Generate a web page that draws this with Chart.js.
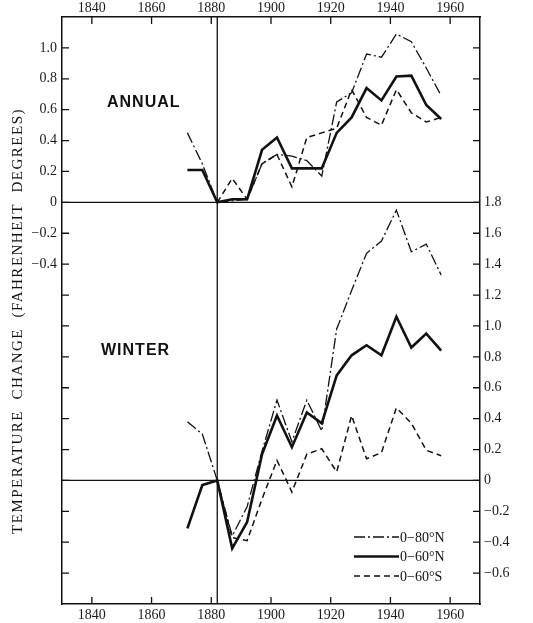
<!DOCTYPE html>
<html>
<head>
<meta charset="utf-8">
<script src="https://cdn.jsdelivr.net/npm/chart.js@4"></script>
<style>
  html, body { margin: 0; padding: 0; background: #fff; }
  canvas { display: block; }
</style>
</head>
<body>
<canvas id="chart" width="533" height="623"></canvas>
<script>
(function () {
  "use strict";

  // 5-year means, centred; reference pentad is 1880-84
  var years = [1872, 1877, 1882, 1887, 1892, 1897, 1902, 1907, 1912, 1917, 1922, 1927, 1932, 1937, 1942, 1947, 1952, 1957];

  var annualN80 = [0.45, 0.25, 0, 0.01, 0.02, 0.25, 0.31, 0.30, 0.27, 0.17, 0.65, 0.71, 0.96, 0.94, 1.09, 1.04, 0.87, 0.69];
  var annualN60 = [0.21, 0.21, 0, 0.02, 0.02, 0.34, 0.42, 0.22, 0.22, 0.22, 0.45, 0.55, 0.74, 0.66, 0.815, 0.82, 0.63, 0.54];
  var annualS60 = [null, null, 0, 0.155, 0.02, 0.25, 0.31, 0.10, 0.42, 0.45, 0.48, 0.73, 0.55, 0.50, 0.73, 0.58, 0.52, 0.55];

  var winterN80 = [0.38, 0.30, 0, -0.36, -0.17, 0.19, 0.52, 0.25, 0.52, 0.32, 0.98, 1.23, 1.47, 1.55, 1.75, 1.48, 1.53, 1.33];
  var winterN60 = [-0.31, -0.03, 0, -0.44, -0.27, 0.17, 0.42, 0.215, 0.44, 0.37, 0.68, 0.81, 0.875, 0.81, 1.06, 0.86, 0.95, 0.84];
  var winterS60 = [null, null, 0, -0.37, -0.39, -0.12, 0.13, -0.075, 0.17, 0.205, 0.055, 0.42, 0.14, 0.18, 0.47, 0.37, 0.195, 0.16];

  var yearTicks = [1840, 1860, 1880, 1900, 1920, 1940, 1960];
  var leftTicks = [1.0, 0.8, 0.6, 0.4, 0.2, 0, -0.2, -0.4, -0.6, -0.8, -1.0, -1.2, -1.4, -1.6, -1.8, -2.0, -2.2, -2.4];
  var leftLabelled = [1.0, 0.8, 0.6, 0.4, 0.2, 0, -0.2, -0.4];
  var rightTicks = [2.8, 2.6, 2.4, 2.2, 2.0, 1.8, 1.6, 1.4, 1.2, 1.0, 0.8, 0.6, 0.4, 0.2, 0, -0.2, -0.4, -0.6];
  var rightLabelled = [1.8, 1.6, 1.4, 1.2, 1.0, 0.8, 0.6, 0.4, 0.2, 0, -0.2, -0.4, -0.6];

  var refYear = 1882;
  var seriesNames = ["0\u221280\u00b0N", "0\u221260\u00b0N", "0\u221260\u00b0S"];

  var INK = "#111";
  var SERIF = "'Liberation Serif', 'DejaVu Serif', serif";
  var SANS = "'Liberation Sans', 'DejaVu Sans', sans-serif";

  var styles = [
    { borderWidth: 1.3, borderDash: [11, 3, 2, 3] },
    { borderWidth: 2.6, borderDash: [] },
    { borderWidth: 1.5, borderDash: [6, 4] }
  ];

  function pairs(values) {
    return years.map(function (yr, i) {
      return { x: yr, y: values[i] };
    });
  }

  function has(list, v) {
    return list.some(function (t) { return Math.abs(t - v) < 1e-6; });
  }

  function fmt(v) {
    if (Math.abs(v) < 1e-6) return "0";
    return (v < 0 ? "\u2212" : "") + Math.abs(v).toFixed(1);
  }

  function makeSet(label, values, axis, k, inLegend) {
    return {
      label: label,
      data: pairs(values),
      yAxisID: axis,
      borderColor: INK,
      borderWidth: styles[k].borderWidth,
      borderDash: styles[k].borderDash,
      borderJoinStyle: "miter",
      pointRadius: 0,
      tension: 0,
      fill: false,
      spanGaps: false,
      showInKey: inLegend
    };
  }

  function tickFont() {
    return { family: SERIF, size: 14 };
  }

  function xScale(pos, h, pad) {
    return {
      type: "linear",
      position: pos,
      min: 1830,
      max: 1970,
      afterBuildTicks: function (s) {
        s.ticks = yearTicks.map(function (v) { return { value: v }; });
      },
      afterFit: function (s) { s.height = h; },
      grid: { display: false, drawTicks: false },
      border: { display: true, color: INK, width: 1.5 },
      ticks: {
        autoSkip: false,
        maxRotation: 0,
        padding: pad,
        color: "#1a1a1a",
        font: tickFont(),
        callback: function (v) { return String(v); }
      }
    };
  }

  function yScale(pos, min, max, marks, labelled, w) {
    return {
      type: "linear",
      position: pos,
      min: min,
      max: max,
      afterBuildTicks: function (s) {
        s.ticks = marks.map(function (v) { return { value: v }; });
      },
      afterFit: function (s) { s.width = w; },
      grid: { display: false, drawTicks: false },
      border: { display: true, color: INK, width: 1.5 },
      ticks: {
        autoSkip: false,
        padding: pos === "left" ? 5 : 4,
        color: "#1a1a1a",
        font: tickFont(),
        callback: function (v) { return has(labelled, v) ? fmt(v) : ""; }
      }
    };
  }

  var decor = {
    id: "decor",
    beforeDatasetsDraw: function (chart) {
      var ctx = chart.ctx;
      var a = chart.chartArea;
      var sx = chart.scales.x;
      var sy = chart.scales.y;
      var sy2 = chart.scales.y2;
      ctx.save();
      ctx.strokeStyle = INK;
      ctx.lineWidth = 1.3;
      ctx.beginPath();
      var y0 = sy.getPixelForValue(0);
      ctx.moveTo(a.left, y0);
      ctx.lineTo(a.right, y0);
      var w0 = sy2.getPixelForValue(0);
      ctx.moveTo(a.left, w0);
      ctx.lineTo(a.right, w0);
      var xr = sx.getPixelForValue(refYear);
      ctx.moveTo(xr, a.top);
      ctx.lineTo(xr, a.bottom);
      ctx.stroke();
      ctx.restore();
    },
    afterDraw: function (chart) {
      var ctx = chart.ctx;
      var a = chart.chartArea;
      var len = 7;
      ctx.save();
      ctx.strokeStyle = INK;
      ctx.lineWidth = 1.3;
      ctx.beginPath();
      chart.scales.x.ticks.forEach(function (t) {
        var p = chart.scales.x.getPixelForValue(t.value);
        ctx.moveTo(p, a.bottom);
        ctx.lineTo(p, a.bottom - len);
      });
      chart.scales.x2.ticks.forEach(function (t) {
        var p = chart.scales.x2.getPixelForValue(t.value);
        ctx.moveTo(p, a.top);
        ctx.lineTo(p, a.top + len);
      });
      chart.scales.y.ticks.forEach(function (t) {
        var p = chart.scales.y.getPixelForValue(t.value);
        ctx.moveTo(a.left, p);
        ctx.lineTo(a.left + len, p);
      });
      chart.scales.y2.ticks.forEach(function (t) {
        var p = chart.scales.y2.getPixelForValue(t.value);
        ctx.moveTo(a.right, p);
        ctx.lineTo(a.right - len, p);
      });
      ctx.stroke();

      // panel names
      ctx.fillStyle = INK;
      ctx.font = "bold 16px " + SANS;
      ctx.textBaseline = "middle";
      ctx.textAlign = "left";
      if ("letterSpacing" in ctx) ctx.letterSpacing = "1px";
      ctx.fillText("ANNUAL", 107, 103);
      ctx.fillText("WINTER", 101, 351);

      // vertical axis title
      ctx.save();
      ctx.translate(18, 321);
      ctx.rotate(-Math.PI / 2);
      ctx.font = "15px " + SERIF;
      ctx.textAlign = "center";
      if ("letterSpacing" in ctx) ctx.letterSpacing = "1.5px";
      ctx.fillText("TEMPERATURE  CHANGE  (FAHRENHEIT  DEGREES)", 0, 0);
      ctx.restore();

      // key
      if ("letterSpacing" in ctx) ctx.letterSpacing = "0px";
      ctx.font = "14px " + SERIF;
      var row = 0;
      chart.data.datasets.forEach(function (ds) {
        if (!ds.showInKey) return;
        var ky = 537 + row * 19.5;
        ctx.beginPath();
        ctx.lineWidth = ds.borderWidth;
        ctx.setLineDash(ds.borderDash);
        ctx.moveTo(354, ky);
        ctx.lineTo(399, ky);
        ctx.stroke();
        ctx.setLineDash([]);
        ctx.fillText(ds.label, 400, ky + 1);
        row++;
      });
      ctx.restore();
    }
  };

  new Chart(document.getElementById("chart"), {
    type: "line",
    data: {
      datasets: [
        makeSet("Annual " + seriesNames[0], annualN80, "y", 0, false),
        makeSet("Annual " + seriesNames[1], annualN60, "y", 1, false),
        makeSet("Annual " + seriesNames[2], annualS60, "y", 2, false),
        makeSet(seriesNames[0], winterN80, "y2", 0, true),
        makeSet(seriesNames[1], winterN60, "y2", 1, true),
        makeSet(seriesNames[2], winterS60, "y2", 2, true)
      ]
    },
    options: {
      responsive: false,
      animation: false,
      layout: { padding: 0 },
      plugins: {
        legend: { display: false },
        tooltip: { enabled: false }
      },
      scales: {
        x: xScale("bottom", 19, 3),
        x2: xScale("top", 17, 0),
        y: yScale("left", -2.6, 1.2, leftTicks, leftLabelled, 62),
        y2: yScale("right", -0.8, 3.0, rightTicks, rightLabelled, 53)
      }
    },
    plugins: [decor]
  });
})();
</script>
</body>
</html>
